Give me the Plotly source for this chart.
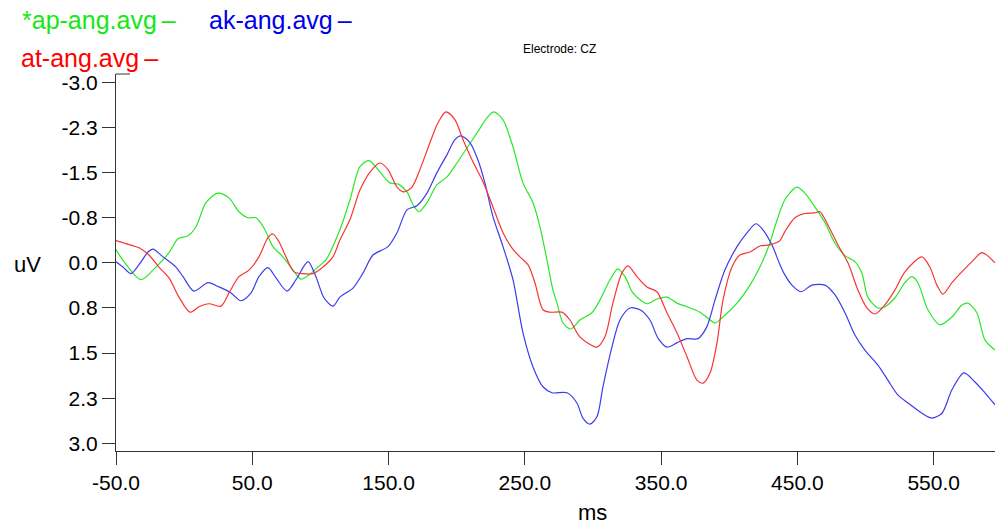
import plotly.graph_objects as go

# ERP averages at electrode CZ (time in ms, amplitude in uV, negative plotted up)
ap_ms = [-50, -45.1, -31.7, -20.7, -11.1, -4.5, 2.8, 8.7, 16.0, 24.8, 32.9, 40.2, 46.8, 52.7,
         58.6, 65.2, 72.5, 79.9, 85.7, 91.6, 98.2, 104.1, 107.0, 114.3, 121.7, 129.0, 135.6,
         143.7, 151.0, 156.9, 163.5, 167.9, 172.3, 178.2, 185.5, 192.9, 200.2, 207.5, 214.9,
         222.2, 227.3, 233.9, 241.3, 248.6, 256.0, 261.1, 266.2, 270.6, 273.6, 278.0, 283.8,
         290.4, 299.2, 305.1, 312.5, 318.3, 323.5, 329.3, 339.6, 346.9, 354.3, 361.6, 369.0,
         378.5, 384.3, 389.5, 395.4, 405.7, 415.2, 422.5, 429.8, 433.5, 440.8, 449.6, 455.5,
         462.8, 470.2, 477.5, 484.9, 492.2, 497.3, 501.7, 509.1, 514.2, 521.6, 528.9, 534.0,
         538.4, 545.8, 554.6, 563.4, 570.7, 575.1, 581.7, 587.6, 595]
ap_uv = [-0.22, -0.05, 0.28, 0.07, -0.17, -0.40, -0.45, -0.60, -1.00, -1.16, -1.08, -0.85, -0.75,
         -0.75, -0.58, -0.27, -0.10, 0.12, 0.27, 0.20, 0.07, -0.05, -0.17, -0.55, -1.05, -1.60,
         -1.70, -1.51, -1.33, -1.31, -1.18, -0.97, -0.85, -1.00, -1.30, -1.43, -1.66, -1.91,
         -2.16, -2.41, -2.51, -2.38, -1.93, -1.33, -1.00, -0.60, -0.05, 0.45, 0.67, 1.00, 1.10,
         0.95, 0.83, 0.62, 0.28, 0.10, 0.23, 0.50, 0.68, 0.60, 0.57, 0.67, 0.73, 0.82, 0.92,
         1.00, 0.90, 0.67, 0.37, 0.07, -0.33, -0.60, -1.05, -1.26, -1.16, -0.93, -0.67, -0.33,
         -0.12, -0.02, 0.17, 0.57, 0.75, 0.73, 0.58, 0.33, 0.23, 0.33, 0.78, 1.03, 0.90, 0.70,
         0.67, 0.83, 1.28, 1.45]

ak_ms = [-50, -44.9, -39.0, -33.1, -26.5, -22.9, -15.5, -6.0, -0.8, 7.2, 17.5, 25.6, 34.4, 41.7,
         49.1, 54.9, 61.5, 67.4, 75.5, 82.1, 90.9, 96.7, 102.6, 109.2, 114.3, 123.9, 131.2,
         138.6, 149.6, 156.2, 163.5, 170.8, 178.2, 185.5, 192.9, 198.7, 203.1, 209.7, 215.6,
         220.7, 226.6, 234.0, 241.3, 248.6, 256.0, 263.3, 269.9, 280.9, 288.2, 292.6, 297.8,
         302.9, 307.3, 313.9, 319.8, 327.1, 334.5, 341.8, 347.7, 354.3, 361.6, 369.0, 377.0,
         383.6, 389.5, 396.8, 405.7, 413.0, 419.6, 424.7, 431.3, 437.2, 440.8, 446.0, 452.6,
         460.7, 470.2, 477.5, 484.9, 492.2, 499.5, 509.1, 516.4, 523.8, 531.1, 541.4, 548.7,
         556.1, 563.4, 572.2, 580.3, 587.6, 595]
ak_uv = [-0.02, 0.07, 0.18, 0.03, -0.18, -0.23, -0.10, 0.07, 0.23, 0.47, 0.33, 0.40, 0.50, 0.63,
         0.50, 0.23, 0.08, 0.25, 0.47, 0.28, -0.02, 0.23, 0.58, 0.72, 0.57, 0.42, 0.17, -0.13,
         -0.27, -0.50, -0.88, -0.95, -1.16, -1.50, -1.80, -2.05, -2.11, -2.00, -1.71, -1.33,
         -0.77, -0.27, 0.28, 1.16, 1.73, 2.06, 2.16, 2.16, 2.33, 2.58, 2.68, 2.56, 2.06, 1.40,
         0.95, 0.75, 0.78, 0.95, 1.25, 1.40, 1.33, 1.26, 1.26, 1.06, 0.62, 0.12, -0.27, -0.50,
         -0.65, -0.55, -0.30, 0.03, 0.20, 0.37, 0.48, 0.37, 0.37, 0.53, 0.83, 1.20, 1.45, 1.70,
         1.95, 2.20, 2.33, 2.50, 2.58, 2.50, 2.11, 1.83, 1.98, 2.16, 2.36]

at_ms = [-50, -42.7, -33.1, -25.8, -18.5, -11.1, -3.8, 4.3, 10.9, 18.2, 27.0, 32.9, 40.2, 47.6,
         54.9, 61.5, 65.2, 69.6, 74.7, 80.6, 87.2, 94.5, 101.9, 109.2, 114.3, 121.7, 129.0,
         136.4, 143.7, 149.6, 156.2, 161.3, 167.2, 173.0, 180.4, 186.3, 192.1, 198.7, 204.6,
         211.9, 219.3, 226.6, 234.0, 240.5, 246.4, 252.3, 257.4, 263.3, 268.4, 277.2, 283.1,
         290.4, 302.9, 308.8, 314.6, 321.2, 325.7, 332.3, 339.6, 346.9, 354.3, 361.6, 369.0,
         376.3, 380.7, 385.9, 391.0, 395.4, 402.0, 407.8, 415.2, 422.5, 429.8, 437.2, 440.8,
         448.2, 455.5, 462.8, 466.5, 472.4, 479.7, 487.1, 494.4, 501.0, 506.9, 514.2, 521.6,
         528.9, 541.4, 547.2, 552.4, 556.8, 563.4, 570.7, 578.1, 585.4, 595]
at_uv = [-0.37, -0.32, -0.25, -0.13, 0.07, 0.25, 0.57, 0.82, 0.73, 0.68, 0.72, 0.50, 0.23, 0.12,
         -0.10, -0.42, -0.48, -0.35, -0.10, 0.15, 0.18, 0.18, 0.07, -0.10, -0.38, -0.72, -1.21,
         -1.51, -1.66, -1.55, -1.26, -1.18, -1.26, -1.55, -2.00, -2.33, -2.51, -2.38, -2.05,
         -1.68, -1.35, -0.93, -0.50, -0.25, -0.10, 0.03, 0.33, 0.78, 0.82, 0.82, 0.95, 1.23,
         1.40, 1.23, 0.67, 0.17, 0.05, 0.23, 0.40, 0.48, 0.83, 1.16, 1.56, 1.95, 2.00, 1.83,
         1.33, 0.62, 0.07, -0.13, -0.18, -0.28, -0.30, -0.37, -0.52, -0.75, -0.82, -0.83, -0.85,
         -0.63, -0.30, 0.00, 0.45, 0.75, 0.85, 0.70, 0.45, 0.15, -0.10, 0.07, 0.37, 0.52, 0.33,
         0.15, -0.02, -0.17, 0.00]

series_names = ["*ap-ang.avg", "ak-ang.avg", "at-ang.avg"]
line_colors = ["rgb(40,232,40)", "rgb(60,60,238)", "rgb(248,52,52)"]
label_colors = ["rgb(20,232,20)", "rgb(0,0,230)", "rgb(255,0,0)"]

x_ticks = [-50, 50, 150, 250, 350, 450, 550]
x_tick_text = ["-50.0", "50.0", "150.0", "250.0", "350.0", "450.0", "550.0"]
y_ticks = [-3.0, -2.25, -1.5, -0.75, 0.0, 0.75, 1.5, 2.25, 3.0]
y_tick_text = ["-3.0", "-2.3", "-1.5", "-0.8", "0.0", "0.8", "1.5", "2.3", "3.0"]

FONT = "Liberation Sans, Arial, sans-serif"
AXIS_COLOR = "#333333"

fig = go.Figure()
for xs, ys, color, name in zip([ap_ms, ak_ms, at_ms], [ap_uv, ak_uv, at_uv], line_colors, series_names):
    fig.add_trace(go.Scatter(
        x=xs, y=ys, mode="lines", name=name,
        line=dict(color=color, width=1.2, shape="spline", smoothing=0.8),
        showlegend=False, hoverinfo="skip",
    ))

W, H = 995, 524
ML, MR, MT, MB = 116, 0, 74, 73
pw, ph = W - ML - MR, H - MT - MB


def px_x(p):
    return (p - ML) / pw


def px_y(p):
    return (H - MB - p) / ph


annotations = []
# series labels with a trailing dash in the series colour
label_pos = [(20, 20), (207, 20), (19, 58)]
for (lx, ly), name, col in zip(label_pos, series_names, label_colors):
    annotations.append(dict(
        text=name + "\u2009\u2013", x=px_x(lx), y=px_y(ly), xref="paper", yref="paper",
        xanchor="left", yanchor="middle", showarrow=False,
        font=dict(family=FONT, size=25, color=col),
    ))

annotations.append(dict(
    text="Electrode: CZ", x=px_x(559), y=px_y(49), xref="paper", yref="paper",
    xanchor="center", yanchor="middle", showarrow=False,
    font=dict(family=FONT, size=12, color="black"),
))
annotations.append(dict(
    text="uV", x=px_x(27), y=px_y(264), xref="paper", yref="paper",
    xanchor="center", yanchor="middle", showarrow=False,
    font=dict(family=FONT, size=22, color="black"),
))
annotations.append(dict(
    text="ms", x=px_x(592), y=px_y(512), xref="paper", yref="paper",
    xanchor="center", yanchor="middle", showarrow=False,
    font=dict(family=FONT, size=22, color="black"),
))

fig.update_layout(
    width=W, height=H,
    margin=dict(l=ML, r=MR, t=MT, b=MB, pad=0),
    paper_bgcolor="white", plot_bgcolor="white",
    font=dict(family=FONT, color="black"),
    annotations=annotations,
    shapes=[dict(type="line", xref="paper", yref="paper", x0=0, x1=px_x(130), y0=1, y1=1,
                 line=dict(color=AXIS_COLOR, width=1))],
    xaxis=dict(
        range=[-50, 595], tickmode="array", tickvals=x_ticks, ticktext=x_tick_text,
        showgrid=False, zeroline=False, showline=True, linecolor=AXIS_COLOR, linewidth=1,
        ticks="outside", ticklen=13, tickcolor=AXIS_COLOR, tickwidth=1,
        tickfont=dict(family=FONT, size=21, color="black"),
    ),
    yaxis=dict(
        range=[3.128, -3.14], tickmode="array", tickvals=y_ticks, ticktext=y_tick_text,
        showgrid=False, zeroline=False, showline=True, linecolor=AXIS_COLOR, linewidth=1,
        ticks="outside", ticklen=13, tickcolor=AXIS_COLOR, tickwidth=1,
        tickfont=dict(family=FONT, size=21, color="black"),
    ),
)

fig.write_html("out.html")
